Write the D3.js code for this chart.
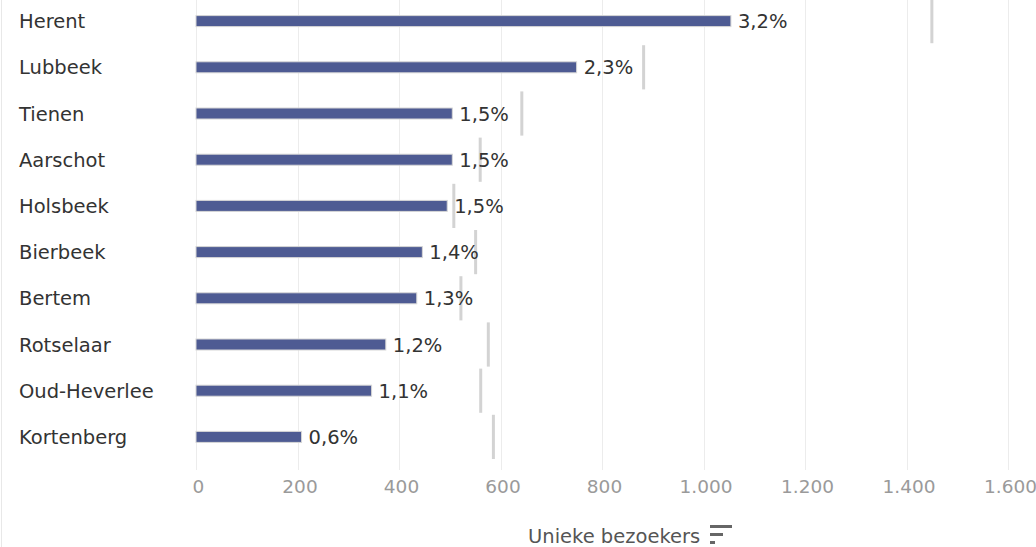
<!DOCTYPE html>
<html>
<head>
<meta charset="utf-8">
<script src="https://cdn.jsdelivr.net/npm/d3@7"></script>
<style>
  html, body { margin: 0; padding: 0; background: #fff; }
  svg { display: block; }
  text { font-family: "DejaVu Sans", "Noto Sans", sans-serif; }
</style>
</head>
<body>
<div id="chart"></div>
<script>
const categories = ["Herent", "Lubbeek", "Tienen", "Aarschot", "Holsbeek", "Bierbeek", "Bertem", "Rotselaar", "Oud-Heverlee", "Kortenberg"];
const visitors = [1054, 750, 505, 505, 495, 446, 435, 374, 346, 208];
const referenceValues = [1450, 882, 642, 560, 508, 551, 522, 576, 561, 586];
const shareLabels = ["3,2%", "2,3%", "1,5%", "1,5%", "1,5%", "1,4%", "1,3%", "1,2%", "1,1%", "0,6%"];
const tickValues = [0, 200, 400, 600, 800, 1000, 1200, 1400, 1600];
const axisTitle = "Unieke bezoekers";

const W = 1036, H = 547;
const svg = d3.select("#chart").append("svg").attr("width", W).attr("height", H);

const x = d3.scaleLinear().domain([0, 1600]).range([196, 1008]);
const y = d3.scaleBand().domain(categories).range([-2, 460]).padding(0);
const bw = y.bandwidth();
const barH = 11;
const FONT = '"DejaVu Sans", sans-serif';

// left border
svg.append("line").attr("x1", 1.5).attr("x2", 1.5).attr("y1", 0).attr("y2", H)
  .attr("stroke", "#e8e8e8").attr("stroke-width", 1);

// gridlines
svg.append("g").selectAll("line").data(tickValues).join("line")
  .attr("x1", d => Math.round(x(d)) + 0.5).attr("x2", d => Math.round(x(d)) + 0.5)
  .attr("y1", 0).attr("y2", 470)
  .attr("stroke", "#ececec").attr("stroke-width", 1);

// axis
const axis = d3.axisBottom(x).tickValues(tickValues).tickSize(0).tickPadding(0)
  .tickFormat(d => d3.format(",")(d).replace(/,/g, "."));
const ag = svg.append("g").attr("transform", "translate(0,478)").call(axis);
ag.select(".domain").remove();
ag.selectAll("text").attr("fill", "#9a9a9a").attr("font-size", 18.5).attr("dy", "0.82em")
  .attr("dx", 2).style("font-family", FONT);

// bars
const rows = categories.map((c, i) => ({ c, v: visitors[i], r: referenceValues[i], l: shareLabels[i] }));
svg.append("g").selectAll("rect").data(rows).join("rect")
  .attr("x", x(0)).attr("y", d => y(d.c) + bw / 2 - barH / 2)
  .attr("width", d => x(d.v) - x(0)).attr("height", barH)
  .attr("fill", "#4e5b93").attr("stroke", "#d6d6d6").attr("stroke-width", 1);

// reference lines
svg.append("g").selectAll("line").data(rows).join("line")
  .attr("x1", d => x(d.r)).attr("x2", d => x(d.r))
  .attr("y1", d => Math.max(0, y(d.c) + 1)).attr("y2", d => y(d.c) + bw - 1)
  .attr("stroke", "#d3d3d3").attr("stroke-width", 3);

// value labels
svg.append("g").selectAll("text").data(rows).join("text")
  .attr("x", d => x(d.v) + 7).attr("y", d => y(d.c) + bw / 2)
  .attr("dy", "0.36em").attr("font-size", 19.5).attr("fill", "#333")
  .text(d => d.l);

// category labels
svg.append("g").selectAll("text").data(rows).join("text")
  .attr("x", 19).attr("y", d => y(d.c) + bw / 2)
  .attr("dy", "0.36em").attr("font-size", 19.5).attr("fill", "#333")
  .text(d => d.c);

// axis title
svg.append("text").attr("x", 528).attr("y", 543).attr("font-size", 19.5)
  .attr("fill", "#555").text(axisTitle);
// sort icon
[[0, 22], [8, 13], [16, 5]].forEach(([dy, w]) => {
  svg.append("rect").attr("x", 710).attr("y", 525 + dy).attr("width", w).attr("height", 3).attr("fill", "#666");
});
</script>
</body>
</html>
